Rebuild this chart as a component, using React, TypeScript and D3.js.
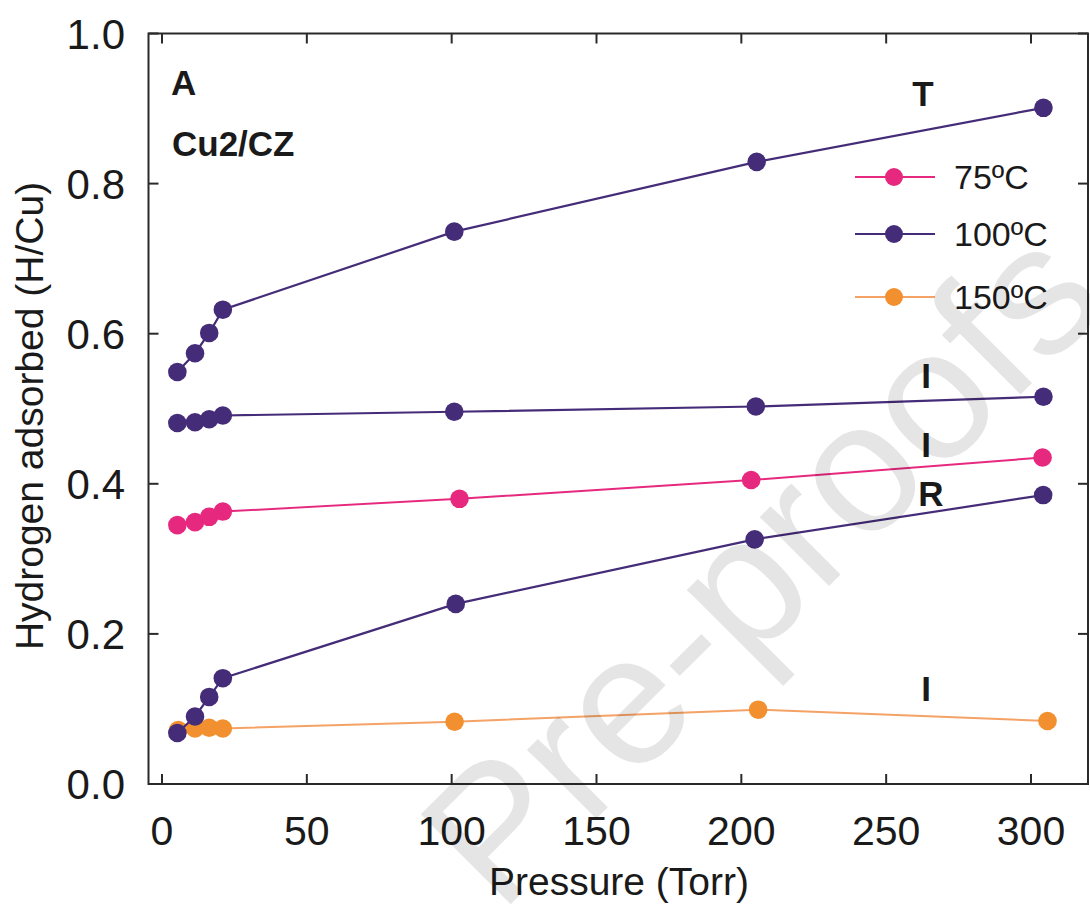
import React from "react";
import * as d3 from "d3";

// ---- data ----
const pressT100 = [5.3, 11.4, 16.3, 21, 100.9, 205.3, 304.3];
const valT100 = [0.549, 0.574, 0.601, 0.632, 0.736, 0.829, 0.901];

const pressI100 = [5.3, 11.4, 16.3, 21, 100.9, 205.0, 304.3];
const valI100 = [0.481, 0.482, 0.486, 0.491, 0.496, 0.503, 0.516];

const pressI75 = [5.3, 11.4, 16.3, 21, 102.7, 203.4, 304.0];
const valI75 = [0.345, 0.349, 0.356, 0.363, 0.38, 0.405, 0.435];

const pressR100 = [5.3, 11.4, 16.3, 21, 101.4, 204.6, 304.2];
const valR100 = [0.068, 0.09, 0.116, 0.141, 0.24, 0.326, 0.385];

const pressI150 = [5.6, 11.4, 16.3, 21, 101.0, 205.8, 305.7];
const valI150 = [0.072, 0.074, 0.075, 0.074, 0.083, 0.099, 0.084];

const xTicks = [0, 50, 100, 150, 200, 250, 300];
const yTicks = [0, 0.2, 0.4, 0.6, 0.8, 1.0];

const legendLabels = ["75ºC", "100ºC", "150ºC"];

const COL75 = "#E6287F";
const COL100 = "#452C78";
const COL150 = "#F29030";
const COL150LINE = "#F4A265";

const FONT = "'Liberation Sans', Arial, sans-serif";

export default function App() {
  const x = d3.scaleLinear().domain([0, 300]).range([162, 1031]);
  const y = d3.scaleLinear().domain([0, 1]).range([784, 33.5]);
  const L = 148.5, R = 1088, T = 33.5, B = 784;

  const line = d3
    .line<[number, number]>()
    .x((d) => x(d[0]))
    .y((d) => y(d[1]));

  const series = [
    { p: pressI150, v: valI150, c: COL150, lc: COL150LINE, w: 2 },
    { p: pressI75, v: valI75, c: COL75, lc: COL75, w: 2 },
    { p: pressR100, v: valR100, c: COL100, lc: COL100, w: 2.2 },
    { p: pressI100, v: valI100, c: COL100, lc: COL100, w: 2.2 },
    { p: pressT100, v: valT100, c: COL100, lc: COL100, w: 2.2 },
  ];

  const legendCols = [
    { c: COL75, lc: COL75 },
    { c: COL100, lc: COL100 },
    { c: COL150, lc: COL150LINE },
  ];
  const legendY = [177, 234, 297];

  const tickLen = 10;

  return (
    <div style={{ position: "absolute", left: 0, top: 0 }}>
      <svg width={1090} height={909} style={{ display: "block", background: "#fff" }}>
        {/* series */}
        {series.map((s, i) => {
          const pts: [number, number][] = s.p.map((p, j) => [p, s.v[j]]);
          return (
            <g key={i}>
              <path d={line(pts) || ""} fill="none" stroke={s.lc} strokeWidth={s.w} />
              {pts.map((d, j) => (
                <circle key={j} cx={x(d[0])} cy={y(d[1])} r={9.3} fill={s.c} />
              ))}
            </g>
          );
        })}

        {/* frame */}
        <rect x={L} y={T} width={R - L} height={B - T} fill="none" stroke="#2a2a2a" strokeWidth={2} />
        {xTicks.map((t) => (
          <g key={"x" + t}>
            <line x1={x(t)} x2={x(t)} y1={B} y2={B - tickLen} stroke="#2a2a2a" strokeWidth={2} />
            <line x1={x(t)} x2={x(t)} y1={T} y2={T + tickLen} stroke="#2a2a2a" strokeWidth={2} />
            <text x={x(t)} y={845} textAnchor="middle" fontFamily={FONT} fontSize={41} fill="#1a1a1a">
              {t}
            </text>
          </g>
        ))}
        {yTicks.map((t) => (
          <g key={"y" + t}>
            <line x1={L} x2={L + tickLen} y1={y(t)} y2={y(t)} stroke="#2a2a2a" strokeWidth={2} />
            <line x1={R} x2={R - tickLen} y1={y(t)} y2={y(t)} stroke="#2a2a2a" strokeWidth={2} />
            <text x={125} y={y(t) + 15} textAnchor="end" fontFamily={FONT} fontSize={42} fill="#1a1a1a">
              {t.toFixed(1)}
            </text>
          </g>
        ))}

        {/* axis titles */}
        <text x={619} y={895} textAnchor="middle" fontFamily={FONT} fontSize={39} fill="#1a1a1a">
          Pressure (Torr)
        </text>
        <text
          transform="translate(43,416) rotate(-90)"
          textAnchor="middle"
          fontFamily={FONT}
          fontSize={39}
          fill="#1a1a1a"
        >
          Hydrogen adsorbed (H/Cu)
        </text>

        {/* annotations */}
        <text x={171} y={95} fontFamily={FONT} fontSize={35} fontWeight="bold" fill="#1a1a1a">A</text>
        <text x={172} y={156} fontFamily={FONT} fontSize={35} fontWeight="bold" fill="#1a1a1a">Cu2/CZ</text>
        <text x={923} y={106} textAnchor="middle" fontFamily={FONT} fontSize={35} fontWeight="bold" fill="#1a1a1a">T</text>
        <text x={926} y={388} textAnchor="middle" fontFamily={FONT} fontSize={35} fontWeight="bold" fill="#1a1a1a">I</text>
        <text x={926} y={457} textAnchor="middle" fontFamily={FONT} fontSize={35} fontWeight="bold" fill="#1a1a1a">I</text>
        <text x={931} y={506} textAnchor="middle" fontFamily={FONT} fontSize={35} fontWeight="bold" fill="#1a1a1a">R</text>
        <text x={926} y={701} textAnchor="middle" fontFamily={FONT} fontSize={35} fontWeight="bold" fill="#1a1a1a">I</text>

        {/* legend */}
        {legendLabels.map((lab, i) => (
          <g key={lab}>
            <line x1={855} x2={935} y1={legendY[i]} y2={legendY[i]} stroke={legendCols[i].lc} strokeWidth={2} />
            <circle cx={894} cy={legendY[i]} r={9} fill={legendCols[i].c} />
            <text x={954} y={legendY[i] + 12} fontFamily={FONT} fontSize={34} fill="#1a1a1a">
              {lab}
            </text>
          </g>
        ))}

        {/* watermark */}
        <text
          transform="translate(500,915) rotate(-45)"
          fontFamily={FONT}
          fontSize={185}
          fill="#000"
          fillOpacity={0.1}
        >
          Pre-proofs
        </text>
      </svg>
    </div>
  );
}
